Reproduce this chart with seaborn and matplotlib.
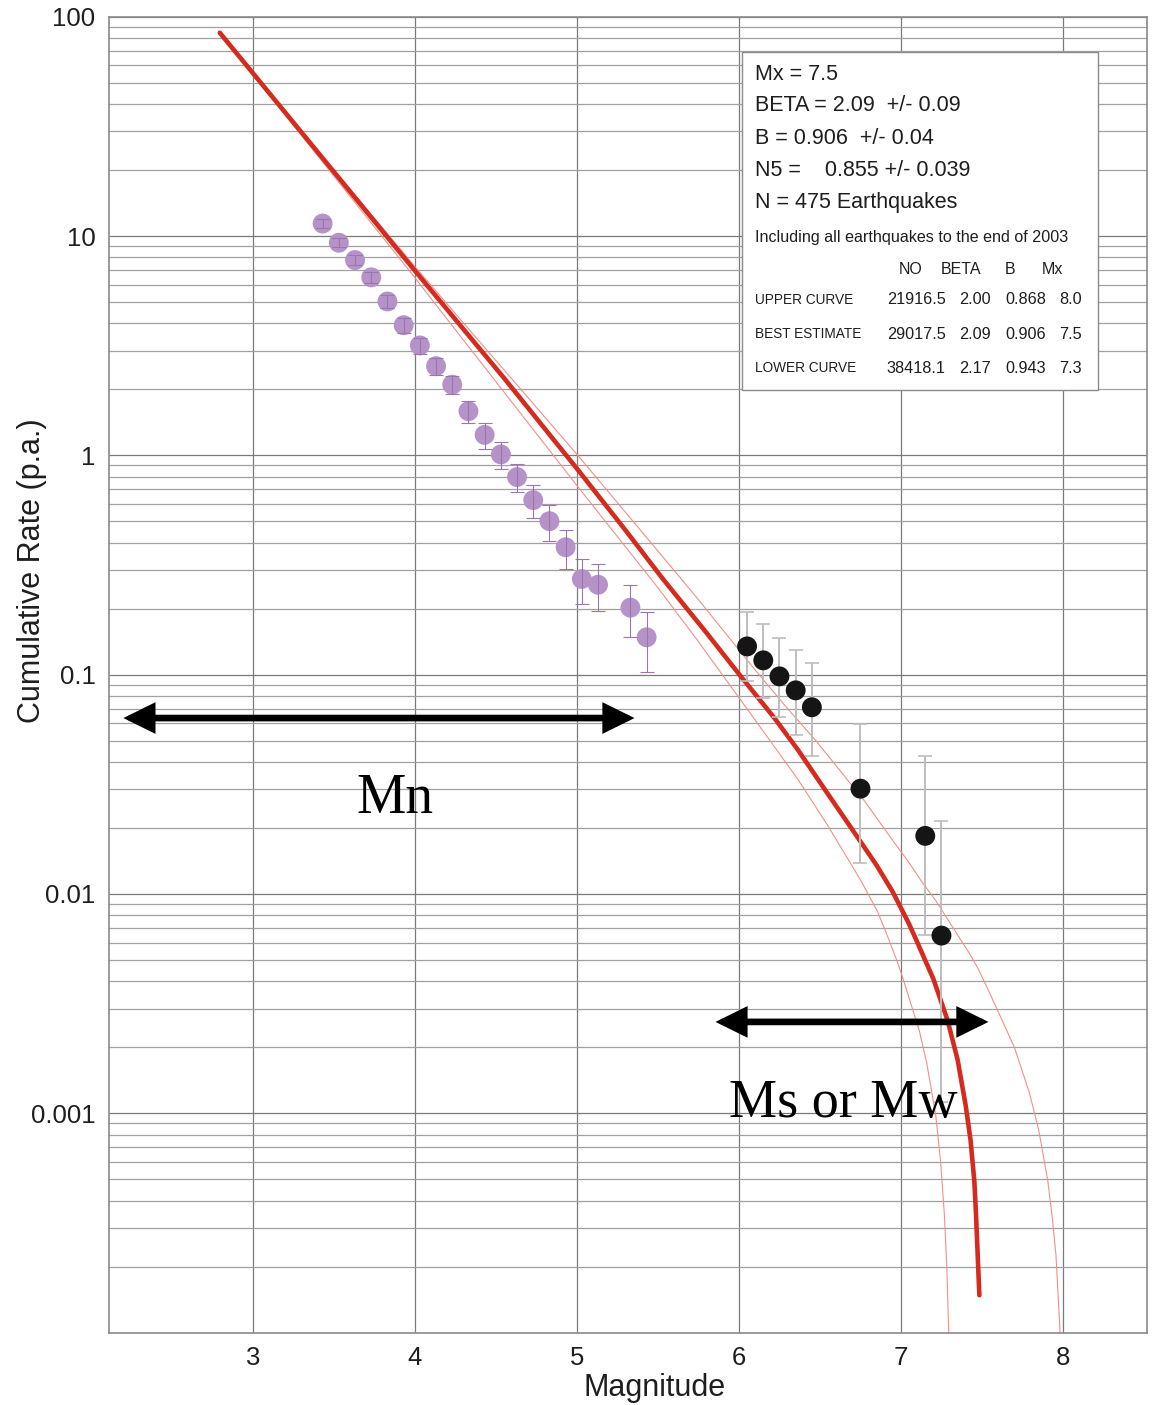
import numpy as np
import matplotlib
matplotlib.use("Agg")
import matplotlib.pyplot as plt
import matplotlib.ticker as mticker
from matplotlib.patches import Rectangle, FancyArrowPatch
import seaborn as sns

# model curves (magnitude, cumulative rate p.a.)
best_mag = [2.795, 3.996, 4.552, 5.005, 5.3, 5.529, 5.8, 6.003, 6.219, 6.363,
            6.55, 6.733, 6.85, 6.95, 7.05, 7.093, 7.2, 7.288, 7.35, 7.400,
            7.43, 7.453, 7.463, 7.484]
best_rate = [84.5, 7.00, 2.24, 0.86, 0.455, 0.274, 0.155, 0.100, 0.0634, 0.0455,
             0.0285, 0.0181, 0.0135, 0.0102, 0.0073, 0.0062, 0.0041, 0.00265, 0.00175, 0.00108,
             0.00075, 0.00049, 0.00035, 0.000148]

upper_mag = [2.795, 3.996, 5.005, 5.529, 5.745, 6.1, 6.3, 6.475, 6.6, 6.774,
             6.95, 7.05, 7.124, 7.216, 7.350, 7.42, 7.474, 7.535, 7.62, 7.700,
             7.793, 7.85, 7.906, 7.935, 7.957, 7.972, 7.982]
upper_rate = [84.5, 7.3, 1.0, 0.345, 0.222, 0.105, 0.070, 0.050, 0.0384, 0.0266,
              0.0175, 0.0139, 0.0115, 0.0093, 0.0065, 0.0054, 0.0046, 0.0037, 0.0027, 0.0020,
              0.00124, 0.00084, 0.000495, 0.00033, 0.000225, 0.00014, 0.0001]

lower_mag = [2.795, 3.996, 4.986, 5.498, 5.745, 5.992, 6.363, 6.55, 6.753, 6.856,
             6.918, 6.980, 7.011, 7.114, 7.16, 7.196, 7.216, 7.245, 7.268, 7.283, 7.295]
lower_rate = [84.5, 6.5, 0.75, 0.25, 0.143, 0.080, 0.0334, 0.0204, 0.0115, 0.0083,
              0.0064, 0.00485, 0.00415, 0.00237, 0.00168, 0.00118, 0.00096, 0.0006, 0.000345, 0.0002, 0.0001]

# Mn observations (purple)
mn_mag = [3.43, 3.53, 3.63, 3.73, 3.83, 3.93, 4.03, 4.13, 4.23, 4.33,
          4.43, 4.53, 4.63, 4.73, 4.83, 4.93, 5.03, 5.13, 5.33, 5.43]
mn_rate = [11.4, 9.32, 7.77, 6.48, 5.03, 3.92, 3.17, 2.55, 2.10, 1.59,
           1.24, 1.01, 0.796, 0.625, 0.501, 0.381, 0.273, 0.257, 0.202, 0.148]
mn_err = [0.5, 0.45, 0.41, 0.37, 0.33, 0.29, 0.26, 0.23, 0.2, 0.18,
          0.166, 0.14, 0.115, 0.105, 0.095, 0.078, 0.064, 0.062, 0.054, 0.045]

# Ms / Mw observations (black)
ms_mag = [6.05, 6.15, 6.25, 6.35, 6.45, 6.75, 7.15, 7.25]
ms_rate = [0.1345, 0.1162, 0.0982, 0.0848, 0.0710, 0.0302, 0.0184, 0.00646]
ms_hi = [0.193, 0.170, 0.1466, 0.130, 0.113, 0.0596, 0.0427, 0.0215]
ms_lo = [0.0932, 0.0783, 0.0641, 0.0532, 0.0427, 0.0138, 0.0065, 0.00113]

y_ticks = [0.001, 0.01, 0.1, 1, 10, 100]
y_labels = ["0.001", "0.01", "0.1", "1", "10", "100"]
x_ticks = [3, 4, 5, 6, 7, 8]

info_lines = ["Mx = 7.5", "BETA = 2.09  +/- 0.09", "B = 0.906  +/- 0.04",
              "N5 =    0.855 +/- 0.039", "N = 475 Earthquakes"]
note = "Including all earthquakes to the end of 2003"
table_head = ["NO", "BETA", "B", "Mx"]
table_rows = ["UPPER CURVE", "BEST ESTIMATE", "LOWER CURVE"]
table_vals = [["21916.5", "2.00", "0.868", "8.0"],
              ["29017.5", "2.09", "0.906", "7.5"],
              ["38418.1", "2.17", "0.943", "7.3"]]

sns.set_theme(style="white")
plt.rcParams["font.family"] = ["Liberation Sans", "DejaVu Sans"]

fig = plt.figure(figsize=(11.52, 14.05), dpi=100)
ax = fig.add_axes([109.3 / 1152, 1 - 1332.6 / 1405, 1037.4 / 1152, 1315.9 / 1405])
ax.set_yscale("log")
ax.set_xlim(2.113, 8.517)
ax.set_ylim(1e-4, 100)

# grid
ax.set_axisbelow(True)
ax.set_xticks(x_ticks)
ax.set_yticks(y_ticks, labels=y_labels)
ax.yaxis.set_minor_locator(mticker.LogLocator(base=10, subs=np.arange(2, 10), numticks=60))
ax.yaxis.set_minor_formatter(mticker.NullFormatter())
ax.grid(which="major", axis="both", color="#7a7a7a", lw=0.9)
ax.grid(which="minor", axis="y", color="#a0a0a0", lw=0.9)
ax.tick_params(axis="both", which="both", length=0, pad=10, labelsize=18.5, colors="#1e1e1e")
for s in ax.spines.values():
    s.set_color("#8a8a8a")
    s.set_linewidth(1.2)

# curves
sns.lineplot(x=upper_mag, y=upper_rate, ax=ax, color="#f29088", lw=0.8, sort=False, estimator=None, zorder=2)
sns.lineplot(x=lower_mag, y=lower_rate, ax=ax, color="#f29088", lw=0.8, sort=False, estimator=None, zorder=2)
sns.lineplot(x=best_mag, y=best_rate, ax=ax, color="#d52a1e", lw=3.3, sort=False, estimator=None, zorder=3)

# observations
sns.scatterplot(x=mn_mag, y=mn_rate, ax=ax, s=205, color="#b592c8", edgecolor="none", zorder=4)
ax.errorbar(mn_mag, mn_rate, yerr=mn_err, fmt="none", ecolor="#9a76ae", elinewidth=0.8,
            capsize=5.3, capthick=0.8, zorder=5)
ms_err = [np.array(ms_rate) - np.array(ms_lo), np.array(ms_hi) - np.array(ms_rate)]
ax.errorbar(ms_mag, ms_rate, yerr=ms_err, fmt="none", ecolor="#bebebe", elinewidth=1.4,
            capsize=5, capthick=1.2, zorder=4)
sns.scatterplot(x=ms_mag, y=ms_rate, ax=ax, s=205, color="#151515", edgecolor="none", zorder=6)

ax.set_xlabel("Magnitude", fontsize=22, color="#1e1e1e")
ax.set_ylabel("Cumulative Rate (p.a.)", fontsize=22, color="#1e1e1e")
ax.xaxis.set_label_coords(0.526, -0.0307)
ax.yaxis.set_label_coords(-0.0605, 0.579)


def fx(px):
    return (px - 109.3) / 1037.4


def fy(py):
    return (1332.6 - py) / 1315.9


# info box
ax.add_patch(Rectangle((fx(741.7), fy(390)), fx(1098.3) - fx(741.7), fy(51.7) - fy(390),
                       transform=ax.transAxes, facecolor="white", edgecolor="#8a8a8a",
                       lw=1.0, zorder=7))
for line, py in zip(info_lines, [74.3, 105.7, 138.3, 170, 202.3]):
    ax.text(fx(755), fy(py), line, transform=ax.transAxes, fontsize=15.5,
            ha="left", va="center", color="#1e1e1e", zorder=8)
ax.text(fx(755), fy(237.3), note, transform=ax.transAxes, fontsize=11.6,
        ha="left", va="center", color="#1e1e1e", zorder=8)
for h, px in zip(table_head, [910.5, 961.3, 1010, 1052.5]):
    ax.text(fx(px), fy(269), h, transform=ax.transAxes, fontsize=11.5,
            ha="center", va="center", color="#1e1e1e", zorder=8)
for row, vals, py in zip(table_rows, table_vals, [300, 334.3, 368.3]):
    ax.text(fx(755), fy(py), row, transform=ax.transAxes, fontsize=9.8,
            ha="left", va="center", color="#1e1e1e", zorder=8)
    for v, px in zip(vals, [886.7, 959, 1005.7, 1059.3]):
        ax.text(fx(px), fy(py), v, transform=ax.transAxes, fontsize=11.7,
                ha="left", va="center", color="#1e1e1e", zorder=8)

# magnitude-range arrows
for x0, x1, yv in [(2.20, 5.355, 0.0634), (5.855, 7.54, 0.00261)]:
    arr = FancyArrowPatch((x0, yv), (x1, yv),
                          arrowstyle="<|-|>,head_length=0.85,head_width=0.42",
                          mutation_scale=18, color="black", lw=4.8,
                          shrinkA=0, shrinkB=0, zorder=7)
    arr.set_joinstyle("miter")
    ax.add_patch(arr)

ax.text(fx(394.5), fy(813.3), "Mn", transform=ax.transAxes, fontsize=40,
        family="Liberation Serif", ha="center", va="baseline", color="black", zorder=8)
ax.text(fx(843.5), fy(1117.3), "Ms or Mw", transform=ax.transAxes, fontsize=39,
        family="Liberation Serif", ha="center", va="baseline", color="black", zorder=8)

fig.savefig("out.png", dpi=100)
